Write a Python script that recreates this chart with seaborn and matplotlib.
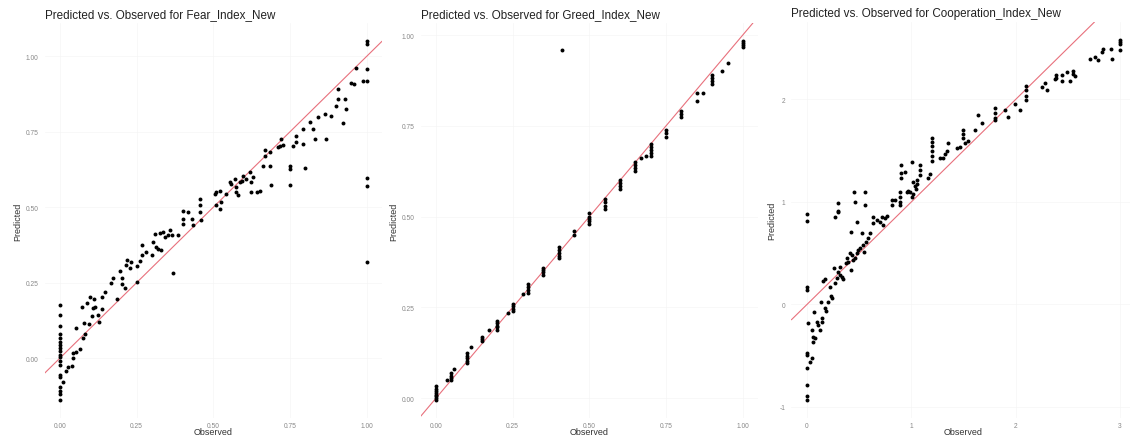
import matplotlib
matplotlib.use("Agg")
import matplotlib.pyplot as plt
import seaborn as sns
import pandas as pd

# ---- Fear_Index_New: observed vs predicted ----
fear_observed = [
    0, 0, 0, 0, 0, 0, 0, 0, 0, 0, 0, 0, 0, 0, 0, 0, 0, 0, 0,
    0.011, 0.02, 0.026, 0.039, 0.041, 0.043, 0.054, 0.065, 0.052,
    0.074, 0.081, 0.078, 0.096, 0.103, 0.109, 0.114, 0.125, 0.128, 0.136,
    0.071, 0.087, 0.098, 0.111, 0.136, 0.147, 0.168, 0.174, 0.187, 0.195,
    0.201, 0.201, 0.212, 0.217, 0.219, 0.228, 0.233, 0.25, 0.252, 0.26,
    0.266, 0.269, 0.282, 0.299, 0.304, 0.313, 0.31, 0.32, 0.331, 0.337,
    0.353, 0.358, 0.369, 0.385, 0.326, 0.342, 0.364,
    0.402, 0.402, 0.402, 0.418, 0.429, 0.434, 0.456, 0.456, 0.456, 0.461,
    0.505, 0.51, 0.521, 0.51, 0.526, 0.521, 0.543, 0.554, 0.559, 0.57,
    0.575, 0.575, 0.581, 0.586, 0.592, 0.597, 0.608, 0.619, 0.624, 0.624,
    0.63, 0.641, 0.651, 0.662, 0.668, 0.668, 0.684, 0.684, 0.689, 0.711,
    0.717, 0.722, 0.727, 0.749, 0.749, 0.749, 0.76, 0.771, 0.771, 0.793,
    0.793, 0.798, 0.814, 0.825, 0.83, 0.841, 0.863, 0.868, 0.885, 0.901,
    0.907, 0.907, 0.923, 0.928, 0.934, 0.95, 0.958, 0.966, 0.988,
    1.0, 1.0, 1.0, 1.0, 1.0, 1.0, 1.0,
]
fear_predicted = [
    0.175, 0.142, 0.106, 0.079, 0.066, 0.053, 0.043, 0.033, 0.023, 0.010,
    0.003, -0.010, -0.023, -0.056, -0.063, -0.096, -0.109, -0.119, -0.139,
    -0.079, -0.043, -0.03, -0.026, 0.0, 0.017, 0.02, 0.03, 0.099,
    0.068, 0.079, 0.115, 0.113, 0.138, 0.165, 0.17, 0.143, 0.121, 0.162,
    0.168, 0.182, 0.204, 0.196, 0.204, 0.22, 0.248, 0.266, 0.196, 0.288,
    0.264, 0.244, 0.231, 0.308, 0.325, 0.299, 0.319, 0.253, 0.306, 0.321,
    0.343, 0.374, 0.352, 0.341, 0.385, 0.369, 0.412, 0.363, 0.358, 0.418,
    0.407, 0.424, 0.281, 0.409, 0.416, 0.402, 0.407,
    0.489, 0.462, 0.446, 0.484, 0.462, 0.44, 0.528, 0.506, 0.484, 0.457,
    0.544, 0.55, 0.555, 0.508, 0.517, 0.495, 0.544, 0.583, 0.577, 0.594,
    0.566, 0.55, 0.539, 0.583, 0.588, 0.605, 0.594, 0.616, 0.583, 0.55,
    0.599, 0.55, 0.555, 0.638, 0.671, 0.688, 0.682, 0.638, 0.572, 0.699,
    0.704, 0.726, 0.706, 0.638, 0.627, 0.574, 0.704, 0.737, 0.715, 0.71,
    0.759, 0.629, 0.781, 0.759, 0.726, 0.798, 0.809, 0.726, 0.801, 0.836,
    0.891, 0.858, 0.779, 0.858, 0.825, 0.913, 0.908, 0.962, 0.919,
    0.919, 0.957, 1.051, 1.04, 0.596, 0.57, 0.32,
]

# ---- Greed_Index_New: observed vs predicted ----
greed_observed = [
    0, 0, 0, 0, 0, 0, 0, 0, 0.035,
    0.05, 0.05, 0.05, 0.05, 0.06,
    0.10, 0.10, 0.10, 0.10, 0.10, 0.115,
    0.15, 0.15, 0.15, 0.173,
    0.20, 0.20, 0.20, 0.20, 0.20, 0.235,
    0.25, 0.25, 0.25, 0.25, 0.283,
    0.30, 0.30, 0.30, 0.30,
    0.35, 0.35, 0.35, 0.35,
    0.40, 0.40, 0.40, 0.40, 0.40, 0.41,
    0.45, 0.45,
    0.50, 0.50, 0.50, 0.50, 0.50,
    0.55, 0.55, 0.55, 0.55,
    0.60, 0.60, 0.60, 0.60,
    0.65, 0.65, 0.65, 0.65, 0.67,
    0.70, 0.70, 0.70, 0.70, 0.70, 0.685,
    0.75, 0.75, 0.75,
    0.80, 0.80, 0.80,
    0.85, 0.85, 0.87,
    0.90, 0.90, 0.90, 0.90,
    0.934, 0.952,
    1.0, 1.0, 1.0, 1.0,
]
greed_predicted = [
    -0.005, 0.0, 0.005, 0.01, 0.015, 0.02, 0.025, 0.033, 0.05,
    0.05, 0.055, 0.06, 0.07, 0.08,
    0.096, 0.103, 0.11, 0.117, 0.124, 0.14,
    0.157, 0.163, 0.17, 0.188,
    0.187, 0.195, 0.2, 0.207, 0.214, 0.234,
    0.24, 0.247, 0.253, 0.26, 0.286,
    0.29, 0.297, 0.305, 0.315,
    0.34, 0.347, 0.353, 0.36,
    0.385, 0.393, 0.4, 0.408, 0.417, 0.96,
    0.45, 0.46,
    0.48, 0.487, 0.494, 0.5, 0.51,
    0.52, 0.53, 0.54, 0.55,
    0.577, 0.585, 0.592, 0.6,
    0.626, 0.634, 0.642, 0.65, 0.662,
    0.668, 0.676, 0.684, 0.692, 0.70, 0.667,
    0.72, 0.73, 0.74,
    0.775, 0.782, 0.79,
    0.82, 0.84, 0.84,
    0.865, 0.873, 0.881, 0.89,
    0.90, 0.922,
    0.966, 0.972, 0.978, 0.984,
]

# ---- Cooperation_Index_New: observed vs predicted ----
coop_observed = [
    0, 0, 0, 0, 0, 0, 0, 0, 0, 0,
    0.029, 0.045, 0.013, 0.045, 0.055, 0.077, 0.061, 0.067, 0.093, 0.109,
    0.125, 0.141, 0.147, 0.134, 0.173, 0.182, 0.205, 0.227, 0.237, 0.22,
    0.157, 0.173, 0.268, 0.284, 0.262, 0.3, 0.316, 0.332, 0.348, 0.316,
    0.38, 0.374, 0.396, 0.412, 0.428, 0.444, 0.46, 0.418, 0.476, 0.492,
    0.508, 0.534, 0.546, 0.588, 0.604, 0.565, 0.418, 0.524, 0.636, 0.636,
    0.668, 0.7, 0.716, 0.748, 0.764, 0.732, 0.476, 0.268, 0.3,
    0.448, 0.559, 0.463, 0.559, 0.297, 0.297,
    0.812, 0.844, 0.812, 0.892, 0.892, 0.892, 0.892, 0.898, 0.898, 0.898,
    0.939, 0.956, 0.972, 0.988, 1.004, 1.02, 1.036, 1.045, 1.051, 1.058,
    1.004, 1.02, 1.083, 1.083, 1.083, 1.163, 1.179, 1.195, 1.195, 1.195,
    1.195, 1.195, 1.195, 1.275, 1.307, 1.323, 1.339, 1.355, 1.435, 1.467,
    1.499, 1.499, 1.499, 1.515, 1.547, 1.611, 1.643, 1.675, 1.805, 1.805,
    1.805, 1.805, 1.9, 1.93, 1.994, 2.04, 2.1, 2.1, 2.1, 2.1,
    2.25, 2.28, 2.3, 2.38, 2.39, 2.39, 2.44, 2.44, 2.49, 2.52,
    2.55, 2.55, 2.57, 2.71, 2.76, 2.79, 2.83, 2.84, 2.91, 2.92,
    3.0, 3.0, 3.0, 3.0,
]
coop_predicted = [
    0.878, 0.813, 0.172, 0.14, -0.478, -0.494, -0.617, -0.788, -0.891, -0.933,
    -0.566, -0.527, -0.185, -0.25, -0.315, -0.325, -0.364, -0.078, -0.169, -0.202,
    -0.25, -0.137, -0.169, 0.02, -0.033, -0.065, 0.02, 0.085, 0.065, 0.172,
    0.228, 0.247, 0.205, 0.254, 0.351, 0.319, 0.286, 0.27, 0.247, 0.367,
    0.455, 0.4, 0.416, 0.498, 0.481, 0.432, 0.455, 0.335, 0.498, 0.53,
    0.553, 0.579, 0.514, 0.644, 0.693, 0.611, 0.702, 0.693, 0.855, 0.79,
    0.823, 0.806, 0.855, 0.839, 0.865, 0.774, 0.8, 0.855, 0.904,
    1.1, 1.1, 1.0, 0.969, 0.985, 0.907,
    1.018, 1.018, 0.969, 1.094, 1.046, 1.004, 0.965, 1.359, 1.287, 1.235,
    1.29, 1.094, 1.111, 1.094, 1.39, 1.19, 1.158, 1.125, 1.21, 1.177,
    1.046, 1.078, 1.359, 1.31, 1.261, 1.235, 1.277, 1.625, 1.586, 1.544,
    1.495, 1.446, 1.398, 1.43, 1.43, 1.463, 1.495, 1.577, 1.528, 1.534,
    1.70, 1.66, 1.62, 1.577, 1.59, 1.70, 1.85, 1.77, 1.92, 1.87,
    1.82, 1.80, 1.9, 1.83, 1.96, 1.9, 2.13, 2.09, 2.03, 1.99,
    2.12, 2.16, 2.09, 2.2, 2.24, 2.21, 2.24, 2.18, 2.27, 2.18,
    2.28, 2.25, 2.23, 2.39, 2.41, 2.38, 2.46, 2.49, 2.49, 2.39,
    2.58, 2.56, 2.54, 2.48,
]

panel_names = ["Fear_Index_New", "Greed_Index_New", "Cooperation_Index_New"]
panel_data = [
    (fear_observed, fear_predicted),
    (greed_observed, greed_predicted),
    (coop_observed, coop_predicted),
]
quarter_ticks = [0.0, 0.25, 0.5, 0.75, 1.0]
quarter_labels = ["0.00", "0.25", "0.50", "0.75", "1.00"]
tick_sets = [
    (quarter_ticks, quarter_labels, quarter_ticks, quarter_labels),
    (quarter_ticks, quarter_labels, quarter_ticks, quarter_labels),
    ([0, 1, 2, 3], ["0", "1", "2", "3"], [-1, 0, 1, 2], ["-1", "0", "1", "2"]),
]

sns.set_theme(style="white")
plt.rcParams["font.family"] = ["Liberation Sans", "DejaVu Sans"]

W, H = 1130, 439
fig = plt.figure(figsize=(W / 100, H / 100), dpi=100)
fig.patch.set_facecolor("white")

# panel boxes in pixels: left, right, top, bottom
boxes = [(44.6, 382.0, 24, 419), (420.6, 758.0, 24, 419), (791.4, 1135.6, 23, 419)]

for (name, (obs, pred), ticks, box) in zip(panel_names, panel_data, tick_sets, boxes):
    l, r, t, b = box
    ax = fig.add_axes([l / W, 1 - b / H, (r - l) / W, (b - t) / H])
    df = pd.DataFrame({"Observed": obs, "Predicted": pred})
    sns.scatterplot(data=df, x="Observed", y="Predicted", ax=ax,
                    color="black", s=8, linewidth=0, zorder=3)
    ax.margins(0.05)
    ax.axline((0, 0), slope=1, color="#e8707c", lw=0.8, zorder=2)

    xt, xl, yt, yl = ticks
    ax.set_xticks(xt)
    ax.set_xticklabels(xl)
    ax.set_yticks(yt)
    ax.set_yticklabels(yl)
    ax.grid(True, color="#f5f5f5", lw=0.5, zorder=0)
    for s in ax.spines.values():
        s.set_visible(False)
    ax.tick_params(axis="both", length=0, labelsize=4.8, colors="#888888")
    ax.tick_params(axis="x", pad=3)
    ax.tick_params(axis="y", pad=4.5)
    ax.set_xlabel("Observed", fontsize=6.5, color="#333333", va="center")
    ax.xaxis.set_label_coords(0.5, -13.5 / (b - t))
    ax.set_ylabel("Predicted", fontsize=6.5, color="#333333", labelpad=2)
    ax.set_title(f"Predicted vs. Observed for {name}", loc="left",
                 fontsize=8.4, color="#222222", pad=4)

fig.savefig("out.png", dpi=100, facecolor="white")
